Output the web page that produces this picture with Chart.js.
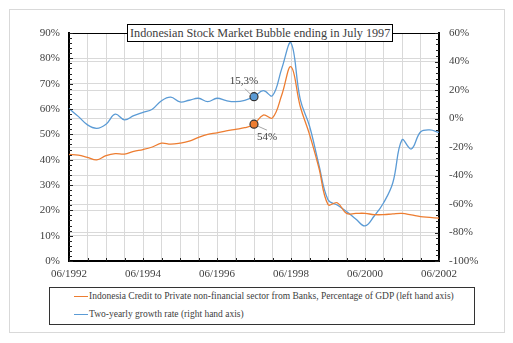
<!DOCTYPE html>
<html>
<head>
<meta charset="utf-8">
<script src="https://cdn.jsdelivr.net/npm/chart.js"></script>
<style>
  body { margin: 0; background: #fff; }
  #wrap { position: relative; width: 513px; height: 343px; font-family: "Liberation Serif", "Times New Roman", serif; color: #404040; }
  #frame { position: absolute; left: 9px; top: 9px; width: 494px; height: 322px; border: 1px solid #d9d9d9; }
  #chartBox { position: absolute; left: 0; top: 0; width: 513px; height: 285px; }
  #title { position: absolute; left: 127px; top: 24px; height: 16px; line-height: 16px; padding: 0 2px; border: 1px solid #000; background: #fff; font-size: 12.2px; white-space: nowrap; z-index: 2; }
  #legend { position: absolute; left: 49px; top: 287px; width: 424px; height: 36px; border: 1px solid #333; font-size: 9.5px; }
  .item { position: absolute; left: 24px; display: flex; align-items: center; white-space: nowrap; }
  .swatch { width: 14px; height: 0; border-top: 1.5px solid; margin-right: 1px; }
</style>
</head>
<body>
<div id="wrap">
  <div id="frame"></div>
  <div id="chartBox"><canvas id="grafico"></canvas></div>
  <div id="title">Indonesian Stock Market Bubble ending in July 1997</div>
  <div id="legend"></div>
</div>
<script>
// quarterly periods, 06/1992 .. 06/2002
const periodos = [
  '06/1992', '09/1992', '12/1992', '03/1993', '06/1993', '09/1993', '12/1993', '03/1994',
  '06/1994', '09/1994', '12/1994', '03/1995', '06/1995', '09/1995', '12/1995', '03/1996',
  '06/1996', '09/1996', '12/1996', '03/1997', '06/1997', '09/1997', '12/1997', '03/1998',
  '06/1998', '09/1998', '12/1998', '03/1999', '06/1999', '09/1999', '12/1999', '03/2000',
  '06/2000', '09/2000', '12/2000', '03/2001', '06/2001', '09/2001', '12/2001', '03/2002',
  '06/2002'
];

// credit to private non-financial sector, % of GDP (left axis)
const creditoPIB = [
  42.1, 41.8, 40.9, 39.9, 41.6, 42.4, 42.2, 43.3, 44.0, 45.0,
  46.5, 46.1, 46.5, 47.3, 48.8, 50.0, 50.6, 51.4, 52.0, 52.6,
  54.0, 57.6, 56.5, 65.5, 76.7, 61.0, 50.0, 37.0, 22.3, 23.0,
  18.8, 18.8, 18.8, 18.3, 18.3, 18.6, 18.8, 18.2, 17.5, 17.2,
  16.9
];

// two-yearly growth rate, % (right axis)
const crecimiento = [
  7.0, 1.5, -4.5, -6.9, -4.0, 3.0, -1.0, 2.0, 4.3, 6.5,
  12.5, 15.0, 11.6, 12.8, 14.2, 11.8, 14.2, 12.5, 11.8, 12.8,
  15.3, 19.5, 16.0, 35.0, 53.0, 13.4, -5.3, -32.0, -57.0, -60.7,
  -65.3, -70.5, -75.4, -68.4, -59.3, -45.3, -15.0, -21.4, -9.5, -8.0,
  -9.8
];

const etiquetasSeries = [
  'Indonesia Credit to Private non-financial sector from Banks, Percentage of GDP (left hand axis)',
  'Two-yearly growth rate (right hand axis)'
];
const coloresSeries = ['#ED7D31', '#5B9BD5'];
const puntoMarcado = 20; // 06/1997

const gris = '#404040';
const fuente = { family: '"Liberation Serif", "Times New Roman", serif', size: 11 };

// legend
const leyenda = document.getElementById('legend');
etiquetasSeries.forEach((txt, i) => {
  const item = document.createElement('div');
  item.className = 'item';
  item.style.top = (i === 0 ? 3 : 21) + 'px';
  item.innerHTML = '<span class="swatch" style="border-color:' + coloresSeries[i] + '"></span><span>' + txt + '</span>';
  leyenda.appendChild(item);
});

const extras = {
  id: 'extras',
  afterDatasetsDraw(chart) {
    const { ctx, chartArea: a, scales } = chart;
    ctx.save();
    // top border
    ctx.strokeStyle = '#000';
    ctx.lineWidth = 1;
    ctx.beginPath();
    ctx.moveTo(a.left, a.top + 0.5);
    ctx.lineTo(a.right, a.top + 0.5);
    ctx.stroke();

    // minor ticks
    ctx.strokeStyle = '#222';
    ctx.lineWidth = 1;
    ctx.beginPath();
    for (let v = 0; v <= 90; v += 2) {
      const y = Math.round(scales.y.getPixelForValue(v)) + 0.5;
      ctx.moveTo(a.left, y);
      ctx.lineTo(a.left + (v % 10 === 0 ? 4 : 3), y);
    }
    for (let v = -100; v <= 60; v += 4) {
      const y = Math.round(scales.y1.getPixelForValue(v)) + 0.5;
      ctx.moveTo(a.right, y);
      ctx.lineTo(a.right - (v % 20 === 0 ? 4 : 3), y);
    }
    for (let i = 0; i < periodos.length; i += 2) {
      const x = Math.round(scales.x.getPixelForValue(i)) + 0.5;
      ctx.moveTo(x, a.bottom);
      ctx.lineTo(x, a.bottom - 3);
    }
    ctx.stroke();

    // annotations
    const pB = chart.getDatasetMeta(1).data[puntoMarcado];
    const pO = chart.getDatasetMeta(0).data[puntoMarcado];
    ctx.strokeStyle = '#a6a6a6';
    ctx.beginPath();
    ctx.moveTo(pB.x - 9, pB.y - 8);
    ctx.lineTo(pB.x - 3, pB.y - 2);
    ctx.moveTo(pO.x + 4, pO.y + 2);
    ctx.lineTo(pO.x + 13, pO.y + 6);
    ctx.stroke();
    ctx.fillStyle = gris;
    ctx.font = '11px ' + fuente.family;
    ctx.textAlign = 'center';
    ctx.textBaseline = 'middle';
    ctx.fillText(String(crecimiento[puntoMarcado]).replace('.', ',') + '%', pB.x - 10, pB.y - 16);
    ctx.fillText(Math.round(creditoPIB[puntoMarcado]) + '%', pO.x + 13, pO.y + 13);
    ctx.restore();
  }
};

const marcar = (c) => (c.dataIndex === puntoMarcado ? 4 : 0);

new Chart(document.getElementById('grafico'), {
  type: 'line',
  data: {
    labels: periodos,
    datasets: [
      {
        label: etiquetasSeries[0],
        data: creditoPIB,
        yAxisID: 'y',
        borderColor: coloresSeries[0],
        backgroundColor: coloresSeries[0],
        borderWidth: 1.3,
        tension: 0.4,
        pointRadius: marcar,
        pointBorderColor: '#333',
        pointBorderWidth: 1.2
      },
      {
        label: etiquetasSeries[1],
        data: crecimiento,
        yAxisID: 'y1',
        borderColor: coloresSeries[1],
        backgroundColor: coloresSeries[1],
        borderWidth: 1.3,
        tension: 0.4,
        pointRadius: marcar,
        pointBorderColor: '#333',
        pointBorderWidth: 1.2
      }
    ]
  },
  options: {
    responsive: true,
    maintainAspectRatio: false,
    animation: false,
    layout: { padding: { top: 33, left: 0, right: 0, bottom: 0 } },
    plugins: {
      legend: { display: false },
      tooltip: { enabled: false }
    },
    scales: {
      x: {
        offset: false,
        afterFit: (s) => { s.height = 24; },
        border: { display: true, color: '#000', width: 2 },
        grid: {
          drawTicks: false,
          color: (c) => (c.index % 2 === 0 ? '#d9d9d9' : 'rgba(0,0,0,0)')
        },
        ticks: {
          autoSkip: false,
          maxRotation: 0,
          padding: 7,
          color: gris,
          font: fuente,
          callback: (v, i) => (i % 8 === 0 ? periodos[i] : '')
        }
      },
      y: {
        position: 'left',
        min: 0,
        max: 90,
        afterFit: (s) => { s.width = 69; },
        border: { display: true, color: '#000', width: 2 },
        grid: { drawTicks: false, color: '#d9d9d9' },
        ticks: { stepSize: 10, padding: 9, color: gris, font: fuente, callback: (v) => v + '%' }
      },
      y1: {
        position: 'right',
        min: -100,
        max: 60,
        afterFit: (s) => { s.width = 74; },
        border: { display: true, color: '#000', width: 2 },
        grid: { drawTicks: false, color: '#d9d9d9' },
        ticks: { stepSize: 20, padding: 10, color: gris, font: fuente, callback: (v) => v + '%' }
      }
    }
  },
  plugins: [extras]
});
</script>
</body>
</html>
